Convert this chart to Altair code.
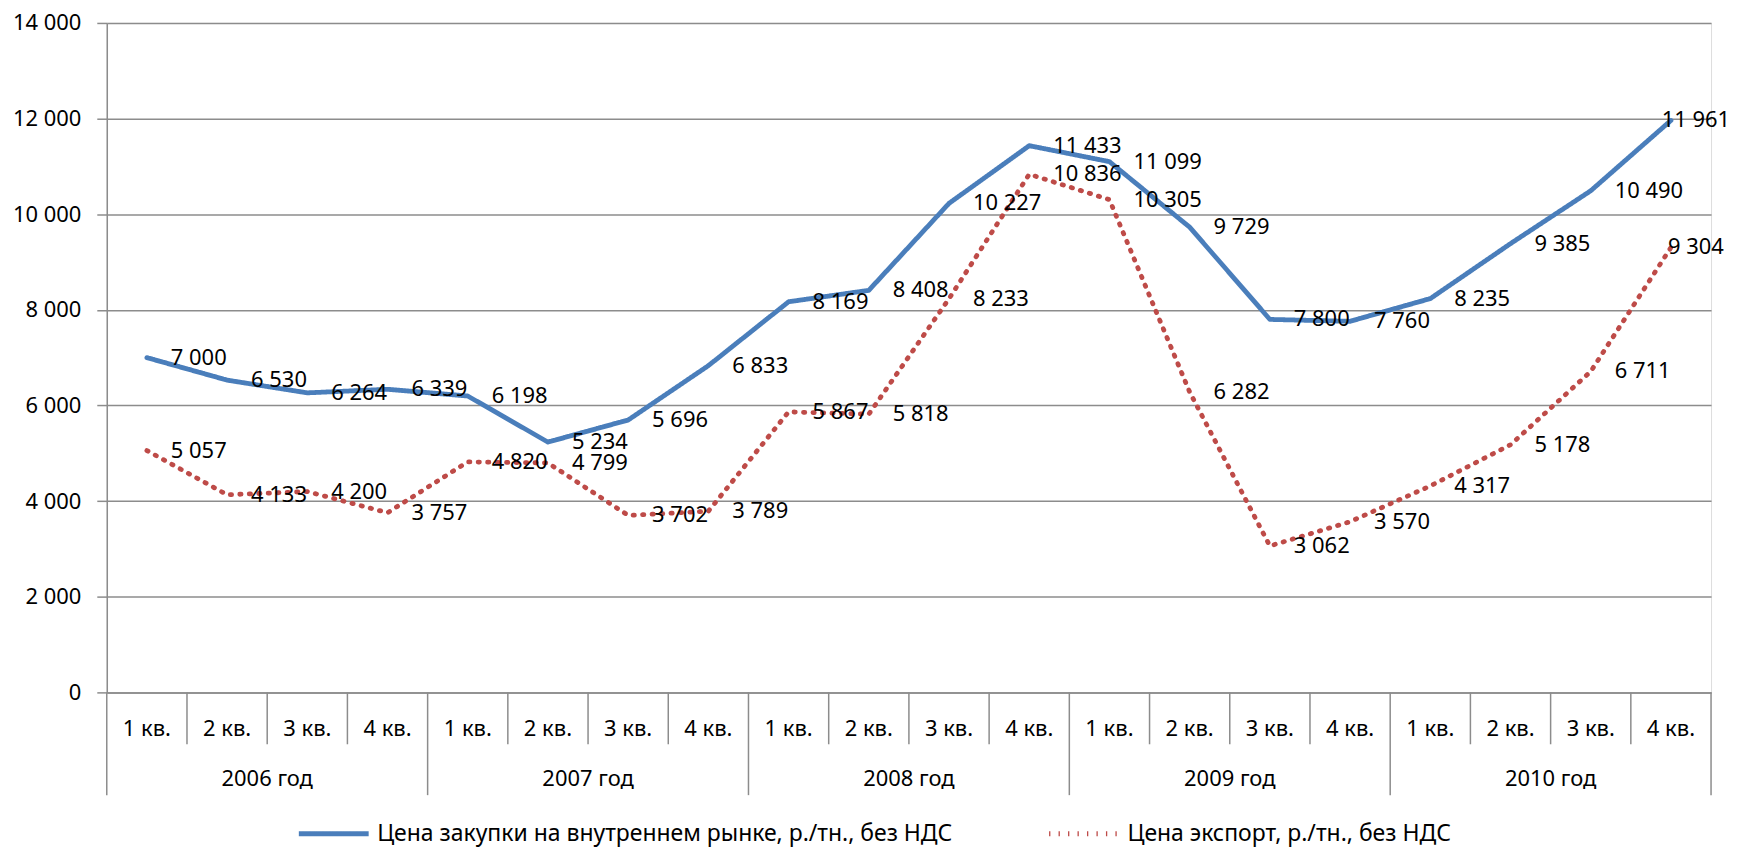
import altair as alt
import pandas as pd

quarters = ["1 кв.", "2 кв.", "3 кв.", "4 кв."]
years = ["2006 год", "2007 год", "2008 год", "2009 год", "2010 год"]

series_names = [
    "Цена закупки на внутреннем рынке, р./тн., без НДС",
    "Цена экспорт, р./тн., без НДС",
]

domestic = [7000, 6530, 6264, 6339, 6198, 5234, 5696, 6833, 8169, 8408,
            10227, 11433, 11099, 9729, 7800, 7760, 8235, 9385, 10490, 11961]
export = [5057, 4133, 4200, 3757, 4820, 4799, 3702, 3789, 5867, 5818,
          8233, 10836, 10305, 6282, 3062, 3570, 4317, 5178, 6711, 9304]

y_ticks = [0, 2000, 4000, 6000, 8000, 10000, 12000, 14000]

BLUE = "#4A7EBB"
RED = "#BE4B48"
GRAY = "#8C8C8C"
FONT = "'Noto Sans', Lato, sans-serif"
FS = 22

W, H = 1608, 671
n = len(domestic)

rows = []
for s, vals in zip(series_names, [domestic, export]):
    for i, v in enumerate(vals):
        rows.append({
            "x": i + 0.5,
            "value": v,
            "series": s,
            "label": f"{v:,}".replace(",", " "),
            "last": i == n - 1,
        })
df = pd.DataFrame(rows)

q_df = pd.DataFrame({"x": [i + 0.5 for i in range(n)],
                     "q": [quarters[i % 4] for i in range(n)]})
y_df = pd.DataFrame({"x": [4 * k + 2 for k in range(len(years))], "year": years})
qsep_df = pd.DataFrame({"x": [i for i in range(1, n) if i % 4 != 0]})
ysep_df = pd.DataFrame({"x": [i for i in range(0, n + 1, 4)]})

xscale = alt.Scale(domain=[0, n], nice=False, zero=False)
xaxis = alt.Axis(labels=False, ticks=False, grid=False, title=None,
                 domainColor=GRAY, domainWidth=1.5)

legend = alt.Legend(
    title=None, orient="none", direction="horizontal",
    legendX=190, legendY=775,
    symbolType="stroke", symbolSize=4900, symbolStrokeWidth=5,
    labelFont=FONT, labelFontSize=23, labelColor="black", labelOffset=6,
    columnPadding=86, labelLimit=1000, padding=0,
)

lines = alt.Chart(df).mark_line(strokeWidth=4.8, strokeCap="round", strokeJoin="round").encode(
    x=alt.X("x:Q", scale=xscale, axis=xaxis),
    y=alt.Y("value:Q", scale=alt.Scale(domain=[0, 14000], nice=False),
            axis=alt.Axis(values=y_ticks, title=None,
                          labelExpr="replace(format(datum.value, ','), ',', ' ')",
                          labelFont=FONT, labelFontSize=FS, labelColor="black",
                          tickSize=10, tickColor=GRAY, tickWidth=1.5,
                          labelPadding=16, domainColor=GRAY, domainWidth=1.5,
                          gridColor=GRAY, gridWidth=1.5)),
    color=alt.Color("series:N", scale=alt.Scale(domain=series_names, range=[BLUE, RED]),
                    legend=legend),
    strokeDash=alt.StrokeDash("series:N",
                              scale=alt.Scale(domain=series_names, range=[[1, 0], [1.3, 8.2]]),
                              legend=legend),
)

labels = alt.Chart(df).transform_filter("!datum.last").mark_text(
    align="left", baseline="middle", dx=24, font=FONT, fontSize=FS, color="black"
).encode(x=alt.X("x:Q", scale=xscale), y="value:Q", text="label:N")

labels_last = alt.Chart(df).transform_filter("datum.last").mark_text(
    align="center", baseline="middle", dx=25, font=FONT, fontSize=FS, color="black"
).encode(x=alt.X("x:Q", scale=xscale), y="value:Q", text="label:N")

qsep = alt.Chart(qsep_df).mark_rule(color=GRAY, strokeWidth=1.5).encode(
    x=alt.X("x:Q", scale=xscale), y=alt.value(H), y2=alt.value(H + 52))
ysep = alt.Chart(ysep_df).mark_rule(color=GRAY, strokeWidth=1.5).encode(
    x=alt.X("x:Q", scale=xscale), y=alt.value(H), y2=alt.value(H + 103))

qtext = alt.Chart(q_df).mark_text(baseline="middle", font=FONT, fontSize=FS, color="black").encode(
    x=alt.X("x:Q", scale=xscale), y=alt.value(H + 37), text="q:N")
ytext = alt.Chart(y_df).mark_text(baseline="middle", font=FONT, fontSize=FS, color="black").encode(
    x=alt.X("x:Q", scale=xscale), y=alt.value(H + 87), text="year:N")

chart = alt.layer(lines, labels, labels_last, qsep, ysep, qtext, ytext).properties(
    width=W, height=H,
    autosize=alt.AutoSizeParams(type="none"),
    padding={"left": 99, "top": 14, "right": 20, "bottom": 156},
).configure_view(stroke=None).configure(background="white")

chart.save("out.html", embed_options={"renderer": "svg", "actions": False})
